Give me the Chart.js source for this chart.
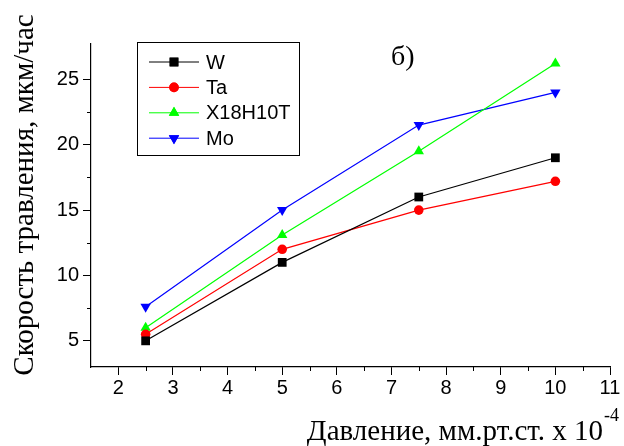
<!DOCTYPE html>
<html>
<head>
<meta charset="utf-8">
<script src="https://cdn.jsdelivr.net/npm/chart.js@4.4.0/dist/chart.umd.min.js"></script>
<style>
html,body{margin:0;padding:0;background:#fff;}
canvas{display:block;}
</style>
</head>
<body>
<canvas id="c" width="624" height="446"></canvas>
<script>
// ---- data ----
const pressure = [2.5, 5, 7.5, 10];
const seriesNames = ['W', 'Ta', 'X18H10T', 'Mo'];
const wValues = [5, 11, 16, 19];
const taValues = [5.5, 12, 15, 17.2];
const x18Values = [6, 13.1, 19.5, 26.2];
const moValues = [7.6, 15, 21.5, 24];
const xTickValues = [2, 3, 4, 5, 6, 7, 8, 9, 10, 11];
const xMinorValues = [2.5, 3.5, 4.5, 5.5, 6.5, 7.5, 8.5, 9.5, 10.5];
const yTickValues = [5, 10, 15, 20, 25];
const yMinorValues = [7.5, 12.5, 17.5, 22.5];
const yTitle = 'Скорость травления, мкм/час';
const xTitle = 'Давление, мм.рт.ст. x 10';
const xTitleSup = '-4';
const panelLabel = 'б)';

const colors = ['#000000', '#ff0000', '#00ff00', '#0000ff'];
const styles = ['rect', 'circle', 'triangle', 'triangle'];
const rotations = [0, 0, 0, 180];
const radii = [6.2, 4.8, 6, 6];
const valueSets = [wValues, taValues, x18Values, moValues];

const datasets = seriesNames.map((name, i) => ({
  label: name,
  data: pressure.map((p, j) => ({x: p, y: valueSets[i][j]})),
  borderColor: colors[i],
  backgroundColor: colors[i],
  borderWidth: 1.2,
  pointStyle: styles[i],
  pointRotation: rotations[i],
  pointRadius: radii[i],
  pointBorderWidth: 0,
  pointBackgroundColor: colors[i],
  tension: 0
}));

const SANS = "'Liberation Sans', Arial, sans-serif";
const SERIF = "'Liberation Serif', 'Times New Roman', serif";

const decor = {
  id: 'decor',
  afterDraw(chart) {
    const ctx = chart.ctx;
    const xs = chart.scales.x, ys = chart.scales.y;
    const area = chart.chartArea;
    ctx.save();
    // minor ticks
    ctx.strokeStyle = '#000';
    ctx.lineWidth = 1;
    ctx.beginPath();
    xMinorValues.forEach(v => {
      const px = Math.round(xs.getPixelForValue(v)) + 0.5;
      ctx.moveTo(px, area.bottom);
      ctx.lineTo(px, area.bottom + 4);
    });
    yMinorValues.forEach(v => {
      const py = Math.round(ys.getPixelForValue(v)) + 0.5;
      ctx.moveTo(area.left, py);
      ctx.lineTo(area.left - 4, py);
    });
    ctx.stroke();

    // legend
    const lx = 137, ly = 42, lw = 162, lh = 113;
    ctx.fillStyle = '#fff';
    ctx.fillRect(lx, ly, lw, lh);
    ctx.strokeStyle = '#000';
    ctx.lineWidth = 1;
    ctx.strokeRect(lx + 0.5, ly + 0.5, lw, lh);
    chart.data.datasets.forEach((ds, i) => {
      const y = 62 + i * 25.4;
      ctx.strokeStyle = ds.borderColor;
      ctx.lineWidth = 1;
      ctx.beginPath();
      ctx.moveTo(149, y);
      ctx.lineTo(199, y);
      ctx.stroke();
      ctx.fillStyle = ds.pointBackgroundColor;
      Chart.helpers.drawPoint(ctx, {pointStyle: ds.pointStyle, rotation: ds.pointRotation, radius: ds.pointRadius, borderWidth: 0}, 174, y);
      ctx.fill();
      ctx.fillStyle = '#000';
      ctx.font = '20px ' + SANS;
      ctx.textAlign = 'left';
      ctx.textBaseline = 'middle';
      ctx.fillText(ds.label, 206, y + 1);
    });

    // panel label
    ctx.fillStyle = '#000';
    ctx.font = '28px ' + SERIF;
    ctx.textAlign = 'left';
    ctx.textBaseline = 'alphabetic';
    ctx.fillText(panelLabel, 391, 65);

    // x title
    const mainFont = '29px ' + SERIF;
    const supFont = '18px ' + SERIF;
    ctx.font = supFont;
    const supW = ctx.measureText(xTitleSup).width;
    ctx.font = mainFont;
    const mainW = ctx.measureText(xTitle).width;
    const right = 619;
    const startX = right - supW - 1 - mainW;
    ctx.fillText(xTitle, startX, 440);
    ctx.font = supFont;
    ctx.fillText(xTitleSup, startX + mainW + 1, 421);

    // y title
    ctx.translate(33, 195);
    ctx.rotate(-Math.PI / 2);
    ctx.font = mainFont;
    ctx.textAlign = 'center';
    ctx.fillText(yTitle, 0, 0);
    ctx.restore();
  }
};

new Chart(document.getElementById('c'), {
  type: 'line',
  data: {datasets},
  plugins: [decor],
  options: {
    responsive: false,
    animation: false,
    devicePixelRatio: 1,
    layout: {padding: {left: 0, right: 14, top: 44, bottom: 0}},
    plugins: {legend: {display: false}, tooltip: {enabled: false}, title: {display: false}},
    scales: {
      x: {
        type: 'linear',
        min: 1.5,
        max: 11,
        afterBuildTicks: s => { s.ticks = xTickValues.map(v => ({value: v})); },
        afterFit: s => { s.height = 79; },
        ticks: {
          color: '#000',
          font: {family: SANS, size: 20},
          padding: 1,
          maxRotation: 0,
          autoSkip: false,
          callback: v => String(v)
        },
        grid: {display: true, drawOnChartArea: false, drawTicks: true, tickLength: 8, tickColor: '#000', tickWidth: 1},
        border: {display: true, color: '#000', width: 1.2}
      },
      y: {
        type: 'linear',
        min: 3,
        max: 27.7,
        afterBuildTicks: s => { s.ticks = yTickValues.map(v => ({value: v})); },
        afterFit: s => { s.width = 91; },
        ticks: {
          color: '#000',
          font: {family: SANS, size: 20},
          padding: 4,
          autoSkip: false,
          callback: v => String(v)
        },
        grid: {display: true, drawOnChartArea: false, drawTicks: true, tickLength: 8, tickColor: '#000', tickWidth: 1},
        border: {display: true, color: '#000', width: 1.2}
      }
    }
  }
});
</script>
</body>
</html>
